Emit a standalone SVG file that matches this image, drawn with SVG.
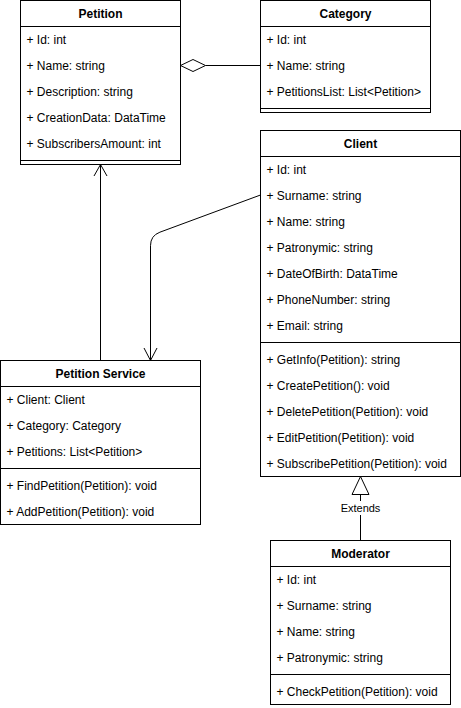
<svg xmlns="http://www.w3.org/2000/svg" width="461" height="708" viewBox="0 0 461 708">
<style>
.box{fill:#fff;stroke:#000;stroke-width:1}
.ln{stroke:#000;stroke-width:1;fill:none}
text{font-family:"Liberation Sans",Arial,Helvetica,sans-serif;font-size:12px;fill:#000}
.h{font-weight:bold;text-anchor:middle}
.lbl{font-size:11px;text-anchor:middle}
</style>
<rect width="461" height="708" fill="#fff"/>
<g id="connectors">
  <path class="ln" d="M205.5,65.5 L260.5,65.5"/>
  <path d="M180.5,65.5 L193,59.5 L205.5,65.5 L193,71.5 Z" fill="#fff" stroke="#000"/>
  <path class="ln" d="M100.5,360.5 L100.5,164.5"/>
  <path class="ln" d="M94,176 L100.5,164.5 L107,176"/>
  <path class="ln" d="M260.5,195 L159.9,232.2 Q150.5,235.7 150.5,245.7 L150.5,360.5"/>
  <path class="ln" d="M144,348 L150.5,360.5 L157,348"/>
  <path class="ln" d="M360.5,494.5 L360.5,540.5"/>
  <path d="M360.5,476.5 L369,494.5 L352,494.5 Z" fill="#fff" stroke="#000"/>
  <rect x="340" y="501" width="41" height="14" fill="#fff"/>
  <text class="lbl" x="360.5" y="512">Extends</text>
</g>
<g id="Petition">
  <rect class="box" x="20.5" y="0.5" width="160" height="164"/>
  <path class="ln" d="M20.5,26.5 H180.5 M20.5,160.5 H180.5"/>
  <text class="h" x="100.5" y="18">Petition</text>
  <text x="26.5" y="44">+ Id: int</text>
  <text x="26.5" y="70">+ Name: string</text>
  <text x="26.5" y="96">+ Description: string</text>
  <text x="26.5" y="122">+ CreationData: DataTime</text>
  <text x="26.5" y="148">+ SubscribersAmount: int</text>
</g>
<g id="Category">
  <rect class="box" x="260.5" y="0.5" width="170" height="112"/>
  <path class="ln" d="M260.5,26.5 H430.5 M260.5,108.5 H430.5"/>
  <text class="h" x="345.5" y="18">Category</text>
  <text x="266.5" y="44">+ Id: int</text>
  <text x="266.5" y="70">+ Name: string</text>
  <text x="266.5" y="96">+ PetitionsList: List&lt;Petition&gt;</text>
</g>
<g id="Client">
  <rect class="box" x="260.5" y="130.5" width="200" height="346"/>
  <path class="ln" d="M260.5,156.5 H460.5 M260.5,342.5 H460.5"/>
  <text class="h" x="360.5" y="148">Client</text>
  <text x="266.5" y="174">+ Id: int</text>
  <text x="266.5" y="200">+ Surname: string</text>
  <text x="266.5" y="226">+ Name: string</text>
  <text x="266.5" y="252">+ Patronymic: string</text>
  <text x="266.5" y="278">+ DateOfBirth: DataTime</text>
  <text x="266.5" y="304">+ PhoneNumber: string</text>
  <text x="266.5" y="330">+ Email: string</text>
  <text x="266.5" y="364">+ GetInfo(Petition): string</text>
  <text x="266.5" y="390">+ CreatePetition(): void</text>
  <text x="266.5" y="416">+ DeletePetition(Petition): void</text>
  <text x="266.5" y="442">+ EditPetition(Petition): void</text>
  <text x="266.5" y="468">+ SubscribePetition(Petition): void</text>
</g>
<g id="PetitionService">
  <rect class="box" x="0.5" y="360.5" width="200" height="164"/>
  <path class="ln" d="M0.5,386.5 H200.5 M0.5,468.5 H200.5"/>
  <text class="h" x="100.5" y="378">Petition Service</text>
  <text x="6.5" y="404">+ Client: Client</text>
  <text x="6.5" y="430">+ Category: Category</text>
  <text x="6.5" y="456">+ Petitions: List&lt;Petition&gt;</text>
  <text x="6.5" y="490">+ FindPetition(Petition): void</text>
  <text x="6.5" y="516">+ AddPetition(Petition): void</text>
</g>
<g id="Moderator">
  <rect class="box" x="270.5" y="540.5" width="180" height="164"/>
  <path class="ln" d="M270.5,566.5 H450.5 M270.5,674.5 H450.5"/>
  <text class="h" x="360.5" y="558">Moderator</text>
  <text x="276.5" y="584">+ Id: int</text>
  <text x="276.5" y="610">+ Surname: string</text>
  <text x="276.5" y="636">+ Name: string</text>
  <text x="276.5" y="662">+ Patronymic: string</text>
  <text x="276.5" y="696">+ CheckPetition(Petition): void</text>
</g>
</svg>
